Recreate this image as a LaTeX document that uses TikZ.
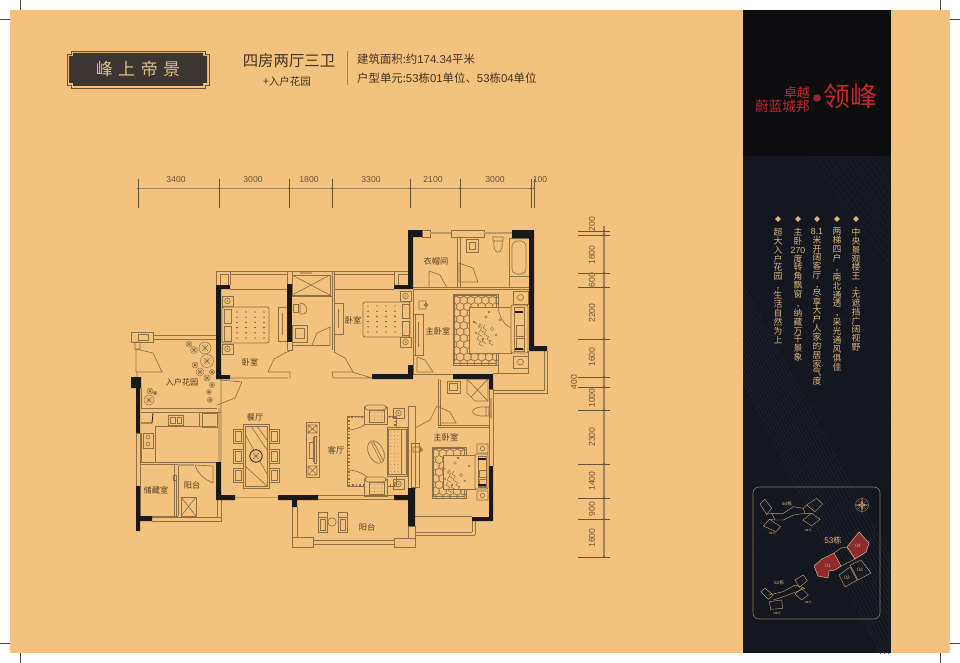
\documentclass[tikz,border=0pt]{standalone}
\usepackage{fontspec}
\setmainfont{Noto Sans CJK SC}
\newfontfamily\latinf{Liberation Sans}
\usetikzlibrary{calc}
\definecolor{pagebg}{HTML}{F4C27F}
\definecolor{ln}{HTML}{8E7044}
\definecolor{gl}{HTML}{B79A6C}
\definecolor{wallc}{HTML}{1B1917}
\definecolor{txt}{HTML}{4E3C24}
\definecolor{dimc}{HTML}{6A5433}
\definecolor{gold}{HTML}{DDB678}
\definecolor{topblack}{HTML}{0D0D10}
\definecolor{navy}{HTML}{14171F}
\definecolor{streak}{HTML}{262A36}
\definecolor{logored}{HTML}{C2272D}
\definecolor{maproom}{HTML}{8E2A30}
\tikzset{
  th/.style={draw=ln,line width=0.65pt},
  thf/.style={draw=ln,line width=0.65pt,fill=pagebg},
  glassln/.style={draw=gl,line width=1.5pt},
  wall/.style={fill=wallc,draw=none},
  dimln/.style={draw=gl!70!dimc,line width=1.3pt},
  tick/.style={draw=dimc,line width=0.7pt},
  dimlab/.style={text=dimc,font=\latinf\fontsize{8.6}{9}\selectfont,inner sep=0pt},
  roomlab/.style={text=txt,font=\fontsize{8.2}{9}\selectfont,inner sep=0pt},
  vtext/.style={anchor=north,align=center,inner sep=0pt,text=gold,font=\fontsize{8.8}{8.85}\selectfont},
  mapln/.style={draw=gold!85!black,line width=0.45pt},
  maplab/.style={text=gold,inner sep=0pt,font=\fontsize{4}{4}\selectfont},
}
\newcommand{\nstand}[2]{% top-left x,y: 11x10
  \draw[th] (#1,#2) rectangle ++(11,10);
  \draw[th] (#1+5.5,#2+5) circle (2.8);
  \fill[ln] (#1+5.5,#2+5) circle (0.8);
}
\newcommand{\ptsx}[4]{% x1,x2,y1,y2 dots
  \foreach \i in {0,...,3}{\foreach \j in {0,...,5}{
    \fill[wallc!80!ln] ({#1+\i*(#2-#1)/3},{#3+\j*(#4-#3)/5}) circle (0.7);}}
}
\newcommand{\rugcircles}[4]{% x1,y1,x2,y2
  \begin{scope}
    \clip (#1,#2) rectangle (#3,#4);
    \foreach \i in {0,...,9}{\foreach \j in {0,...,12}{
      \draw[ln,line width=0.4pt] ({#1+\i*7.2+mod(\j,2)*3.5},{#2+\j*6.3}) circle (4.1);}}
  \end{scope}
  \draw[ln,line width=0.9pt] (#1,#2) rectangle (#3,#4);
  \draw[th] (#1+1.6,#2+1.6) rectangle (#3-1.6,#4-1.6);
}
\newcommand{\flowers}[2]{% around x,y
  \foreach \a/\b/\r in {0/0/1.4,6/-8/1.3,-4/8/1.1,12/4/1.6,9/-13/1,-6/-3/1,16/10/1.2,20/-5/1.1,3/14/1.2}{
    \draw[ln,line width=0.4pt] (#1+\a,#2+\b) circle (\r);}
  \foreach \a/\b in {0/5,3/3,-2/9,4/9,-3/14,2/16,7/14,9/18,-1/19}{
    \draw[ln,line width=0.5pt] (#1+\a,#2+\b) -- ++(4,2.4) (#1+\a,#2+\b) -- ++(2,-3);}
  \fill[wallc] (#1-4,#2-2) circle (0.7) (#1-1,#2+2) circle (0.7);
}
\newcommand{\plant}[3]{% x,y,r
  \draw[ln,line width=0.45pt] (#1,#2) circle (#3);
  \draw[ln,line width=0.45pt] (#1-#3*0.7,#2) -- (#1+#3*0.7,#2) (#1,#2-#3*0.7) -- (#1,#2+#3*0.7)
     (#1-#3*0.5,#2-#3*0.5) -- (#1+#3*0.5,#2+#3*0.5) (#1-#3*0.5,#2+#3*0.5) -- (#1+#3*0.5,#2-#3*0.5);
}
\newcommand{\diningchair}[2]{\draw[th,line width=0.8pt] (#1,#2) rectangle ++(10,14); \draw[th] (#1+2,#2+2) rectangle ++(6,10);}
\newcommand{\armchair}[2]{% x,y 23x19
  \draw[thf] (#1,#2+2) rectangle ++(23,17);
  \draw[thf,rounded corners=3pt] (#1+1,#2) rectangle ++(21,5);
  \draw[thf] (#1+5,#2+5) rectangle ++(15,12);
  \foreach \i in {0,...,3}{\foreach \j in {0,...,2}{\fill[ln] (#1+7+\i*3.5,#2+7.5+\j*3.5) circle (0.45);}}
}
\begin{document}
\begin{tikzpicture}[x=1pt,y=-1pt]
\useasboundingbox (0,0) rectangle (960,663);
\fill[white] (0,0) rectangle (960,663);
\fill[pagebg] (10,10) rectangle (950,653);
% crop marks
\draw[black!70,line width=0.6pt] (20,0) -- (20,10) (0,19) -- (10,19) (940,0) -- (940,10) (950,19) -- (960,19)
  (20,653) -- (20,663) (0,643) -- (10,643) (940,653) -- (940,663) (950,643) -- (960,643);
% ---------- right panel
\fill[navy] (743,156) rectangle (891,653);
\begin{scope}
  \clip (743,156) rectangle (891,653);
  \foreach \d in {0,4,...,60}{\draw[streak,line width=0.35pt] (743,{285+\d*1.6}) -- (891,{560+\d*1.9});}
  \foreach \d in {0,9,...,180}{\draw[streak,line width=0.3pt,opacity=.55] (743,{620-\d*2}) -- ++(150,-150);}
  \foreach \d in {0,6,...,60}{\draw[streak,line width=0.3pt,opacity=.7] (810+\d,156) -- ++(81,110);}
\end{scope}
\fill[topblack] (743,10) rectangle (891,156);
% logo
\node[inner sep=0pt,anchor=east,text=logored,font=\fontsize{13}{13}\selectfont] (logoa) at (810,93) {卓越};
\node[inner sep=0pt,anchor=east,text=logored,font=\fontsize{13.7}{14}\selectfont] (logob) at (810,106) {蔚蓝城邦};
\fill[maproom] (817,98) circle (3.8);
\node[inner sep=0pt,anchor=west,text=logored,font=\fontsize{27}{27}\selectfont] (logoc) at (823,96) {领峰};
% bullets
\foreach \x in {856,837,817,798,778}{\fill[gold] (\x,216) -- (\x+2.8,219) -- (\x,222) -- (\x-2.8,219) -- cycle;}
\node[vtext] (va) at (856,228) {中\\央\\景\\观\\楼\\王\\,\\无\\遮\\挡\\广\\阔\\视\\野};
\node[vtext] (vb) at (837,228) {两\\梯\\四\\户\\,\\南\\北\\通\\透\\,\\采\\光\\通\\风\\俱\\佳};
\node[vtext] (vc) at (817,228) {{\latinf 8.1}\\米\\开\\阔\\客\\厅\\,\\尽\\享\\大\\户\\人\\家\\的\\居\\家\\气\\度};
\node[vtext] (vd) at (798,228) {主\\卧\\{\latinf 270}\\度\\转\\角\\飘\\窗\\,\\纳\\藏\\万\\千\\景\\象};
\node[vtext] (ve) at (778,228) {超\\大\\入\\户\\花\\园\\,\\生\\活\\自\\然\\为\\上};
% key map
\draw[draw=gold!60!navy,line width=0.6pt,rounded corners=6pt] (753,487) rectangle (880,619);
\draw[gold!70!navy,line width=0.4pt] (862,505) circle (6.5);
\fill[gold!85!navy] (862,497) -- (863,504) -- (870,505) -- (863,506) -- (862,513) -- (861,506) -- (854,505) -- (861,504) -- cycle;
\fill[gold!60!navy] (857,500) -- (862.6,504.4) -- (867,500) -- (862.6,505.6) -- (867,510) -- (861.4,505.6) -- (857,510) -- (861.4,504.4) -- cycle;
\node[inner sep=0pt,text=gold,font=\fontsize{8.2}{9}\selectfont] (l53) at (833,540) {{\latinf 53}栋};
\draw[draw=gold!80!white,line width=0.45pt,fill=maproom] (814,566) -- (822,559) -- (834,553) -- (841,566) -- (835,570) -- (829,571) -- (828,578) -- (818,576) -- cycle;
\draw[draw=gold!80!white,line width=0.45pt,fill=maproom] (847,547) -- (859,532) -- (869,543) -- (866,552) -- (855,559) -- cycle;
\draw[mapln] (834,553) -- (841,548) -- (847,547) -- (855,559) -- (841,566);
\draw[mapln] (850,565) -- (861,560) -- (871,573) -- (858,580) -- cycle;
\draw[mapln] (839,575) -- (850,567) -- (857,580) -- (845,587) -- cycle;
\node[maplab,font=\latinf\fontsize{4.8}{5}\selectfont] (m01) at (828,566) {01};
\node[maplab,font=\latinf\fontsize{4.8}{5}\selectfont] (m02) at (847,578) {02};
\node[maplab,font=\latinf\fontsize{4.8}{5}\selectfont] (m03) at (860,570) {03};
\node[maplab,font=\latinf\fontsize{4.8}{5}\selectfont] (m04) at (858,546) {04};
% 54
\begin{scope}[shift={(740,480)},x=0.3333pt,y=-0.3333pt]
  \draw[mapln] (60,72) -- (75,58) -- (95,85) -- (80,103) -- cycle;
  \draw[mapln] (70,138) -- (88,118) -- (122,140) -- (108,155) -- cycle;
  \draw[mapln] (95,100) -- (130,100) -- (160,80) -- (190,85) -- (195,100) -- (160,105) -- (130,120) -- (105,120) -- cycle;
  \draw[mapln] (200,75) -- (230,55) -- (248,72) -- (225,95) -- cycle;
  \draw[mapln] (188,120) -- (215,100) -- (240,118) -- (215,138) -- cycle;
  \draw[mapln] (80,103) -- (95,100) (88,118) -- (105,120) (195,100) -- (215,100) (200,75) -- (190,85);
\end{scope}
\node[maplab,font=\fontsize{4.6}{5}\selectfont] (m54) at (787,504) {{\latinf 54}栋};
\node[maplab,font=\fontsize{2.8}{3}\selectfont] (m54a) at (772,533) {1单元};
\node[maplab,font=\fontsize{2.8}{3}\selectfont] (m54b) at (808,530) {2单元};
% 52
\begin{scope}[shift={(740,540)},x=0.3333pt,y=-0.3333pt]
  \draw[mapln] (62,155) -- (75,145) -- (100,165) -- (85,178) -- cycle;
  \draw[mapln] (85,165) -- (130,155) -- (165,135) -- (195,145) -- (170,155) -- (130,170) -- (100,180);
  \draw[mapln] (165,120) -- (190,105) -- (202,122) -- (178,142) -- cycle;
  \draw[mapln] (165,162) -- (185,145) -- (205,165) -- (185,180) -- cycle;
  \draw[mapln] (88,185) -- (125,180) -- (128,205) -- (92,208) -- cycle;
\end{scope}
\node[maplab,font=\fontsize{4.6}{5}\selectfont] (m52) at (779,583) {{\latinf 52}栋};
\node[maplab,font=\fontsize{2.8}{3}\selectfont] (m52a) at (808,602) {1单元};
\node[maplab,font=\fontsize{2.8}{3}\selectfont] (m52b) at (777,613) {2单元};
% ---------- header
\definecolor{ttlbox}{HTML}{3B3631}
\draw[line width=0.9pt,draw=dimc] (71,51) -- (205,51) -- (205,54) -- (209,54) -- (209,85) -- (205,85) -- (205,88) -- (71,88) -- (71,85) -- (67,85) -- (67,54) -- (71,54) -- cycle;
\fill[ttlbox] (73,53) -- (203,53) -- (203,56) -- (207,56) -- (207,83) -- (203,83) -- (203,86) -- (73,86) -- (73,83) -- (69,83) -- (69,56) -- (73,56) -- cycle;
\node[inner sep=0pt,text=gold!90!white,font=\fontsize{17}{17}\selectfont] (ttl) at (138,69) {峰\hspace{5.5pt}上\hspace{5.5pt}帝\hspace{5.5pt}景};
\node[inner sep=0pt,text=txt!85!black,font=\fontsize{15.4}{16}\selectfont] (ha) at (289,61) {四房两厅三卫};
\node[inner sep=0pt,text=txt!85!black,font=\fontsize{10.5}{11}\selectfont] (hb) at (287,82) {+入户花园};
\draw[line width=0.5pt,draw=gl!70!dimc] (347,51) -- (347,85);
\node[inner sep=0pt,anchor=west,text=txt!85!black,font=\fontsize{11.4}{12}\selectfont] (hc) at (357,59) {建筑面积:约{\latinf 174.34}平米};
\node[inner sep=0pt,anchor=west,text=txt!85!black,font=\fontsize{11.4}{12}\selectfont] (hd) at (357,78) {户型单元:{\latinf 53}栋{\latinf 01}单位、{\latinf 53}栋{\latinf 04}单位};
% ---------- top dimensions
\draw[dimln] (138,188.5) -- (534,188.5);
\foreach \x in {138,219,289,332,410,460,531,534}{\draw[tick] (\x,179) -- (\x,208); \fill[dimc] (\x,188.5) circle (1);}
\node[dimlab] (d1) at (176,180) {3400};
\node[dimlab] (d2) at (253,180) {3000};
\node[dimlab] (d3) at (309,180) {1800};
\node[dimlab] (d4) at (371,180) {3300};
\node[dimlab] (d5) at (433,180) {2100};
\node[dimlab] (d6) at (495,180) {3000};
\node[dimlab] (d7) at (540,180) {100};
% right dimensions
\draw[dimln] (604,226) -- (604,557);
\foreach \y in {231,235,273,287,339,377,387,410,464,498,519,557}{\draw[tick] (578,\y) -- (610,\y); \fill[dimc] (604,\y) circle (1);}
\foreach \n/\y/\t in {e1/224/200,e2/255/1600,e3/280/600,e4/313/2200,e5/357/1600,e7/398/1000,e8/437/2300,e9/481/1400,e10/509/900,e11/538/1600}{
  \node[dimlab,rotate=90] (\n) at (592,\y) {\t};}
\node[dimlab,rotate=90] (e6) at (574,382) {400};
% ---------- thin architecture
% top bedrooms band
\draw[th] (216,271) -- (394,271) (230,274) -- (287,274) (334,274) -- (394,274);
\draw[th] (216,271) -- (216,285) (230,271) -- (230,285) (220,274) rectangle (228,285);
\draw[th] (287,271) -- (287,284) (292,271) -- (292,284) (332,271) -- (332,350) (334,271) -- (334,352);
\draw[glassln] (300,273) -- (312,273);
\draw[th] (230,289) -- (287,289);
\draw[th] (394,271) rectangle (408,285) (398,274) rectangle (408,285);
\draw[th] (334,289) -- (394,289);
% shower bath 1
\draw[th,line width=0.8pt] (292,275) rectangle (330,295);
\draw[th] (292,275) -- (330,295) (292,295) -- (330,275);
\draw[th,line width=0.9pt] (292,296) -- (332,296);
\draw[th] (300,303) -- (300,314) .. controls (310,316) and (308,303) .. (300,303);
\draw[th] (293,304) rectangle (298,312);
\draw[th] (292,325) rectangle (307,342) (295,328) rectangle (304,338);
\draw[th] (312,345) -- (317,333) -- (330,327) -- (330,345);
\draw[th] (292,342) -- (292,350) -- (287,350) -- (287,342) (292,345) -- (330,345);
% bed 1
\draw[th] (278,307) rectangle (287,341);
\draw[th,line width=1pt] (282,313) -- (282,335);
\draw[th] (334,303) rectangle (343,334);
\draw[th,line width=1pt] (338.5,309) -- (338.5,328);
\nstand{222}{296}\nstand{222}{344}
\draw[th,rounded corners=2pt,line width=0.8pt] (222,307) rectangle (269,343);
\draw[th] (224,309) rectangle (231,323) (224,326) rectangle (231,341);
\ptsx{237}{264}{312}{338}
% bed 2
\nstand{400}{291}\nstand{400}{337}
\draw[th,rounded corners=2pt,line width=0.8pt] (363,302) rectangle (410,337);
\draw[th] (402,304) rectangle (409,318) (402,321) rectangle (409,335);
\ptsx{368}{395}{306}{332}
% doors & corridor
\draw[th] (230,378) -- (288,378) (268,372) -- (290,372) -- (290,378) (268,372) -- (274,359) -- (287,352) -- (292,350);
\draw[th] (332,372) -- (352,372) -- (372,378) -- (333,378) -- cycle;
\draw[th] (334,352) -- (345,358) -- (353,372);
% garden
\draw[th] (131,332) rectangle (153,342) (138,334) rectangle (148,340);
\draw[th,line width=0.8pt] (153,335) -- (216,335) (153,339) -- (216,339);
\draw[th] (135,342) rectangle (140,349) (136,349) -- (153,353) -- (162,372) -- (137,372) -- (137,377) (136,349) -- (136,372);
\draw[th] (141,388) -- (141,408) (141,408) -- (217,408) (141,412) -- (221,412);
\draw[th] (217,405) -- (235,398) -- (242,382) -- (221,380) (221,379) -- (221,462) (219,408) -- (219,462);
\plant{205}{348}{6}\plant{207}{361}{6.5}\plant{194}{350}{3.5}\plant{189}{344}{3}\plant{200}{372}{4}\plant{207}{378}{3.2}
\plant{195}{365}{3}\plant{212}{372}{2.5}\plant{149}{400}{5.2}\plant{150}{391}{3}\plant{212}{385}{2.6}\plant{209}{392}{2.4}\plant{210}{400}{2.6}\plant{155}{393}{2}
% kitchen
\draw[th] (141,433) -- (141,462) -- (219,462) (155,426) -- (216,426) (155,426) -- (155,462);
\draw[th] (199,412) -- (199,426) (202,413) rectangle (217,427);
\draw[wallc,line width=0.8pt] (141,423) -- (152,423) -- (153,413);
\draw[th] (168,415) rectangle (183,425) (170,417) rectangle (175,423) (177,417) rectangle (181,423);
\draw[th] (143,433) rectangle (153,448);
\draw[th] (148,437) circle (2) (148,444) circle (2);
\draw[th] (136,433) -- (136,486) (140,433) -- (140,486) (136,433) -- (140,433);
% storage & balcony
\draw[th,line width=0.8pt] (140,464) rectangle (174,516);
\draw[th] (174,464) -- (178,464) (178,464) -- (178,516) (176,480) -- (176,516) (140,516) -- (178,516);
\draw[glassln,draw=gl] (178,465) -- (194,465);
\draw[th] (195,465) -- (213,466) -- (213,483) (195,465) .. controls (198,474) and (204,479) .. (213,483);
\draw[th,line width=0.8pt] (181,497) rectangle (196,516);
\draw[th] (181,497) -- (196,516) (181,516) -- (196,497);
\draw[th] (152,517) -- (221,517) (152,521) -- (221,521) -- (221,500);
\draw[th] (217,500) -- (217,517);
\draw[th] (176,475) rectangle (173,480);
% dining
\foreach \y in {429,449,468}{\diningchair{233}{\y}\diningchair{269}{\y}}
\draw[th,line width=0.9pt,fill=pagebg] (243,424) rectangle (269,488);
\draw[th] (245,426) rectangle (267,486);
\draw[th] (251,426) -- (267,450) (257,426) -- (267,440) (245,434) -- (267,474) (245,466) -- (267,486);
\fill[pagebg] (256,456) circle (6.2);
\plant{256}{456}{6.2}
\draw[wallc!70!ln,line width=0.8pt] (256,456) circle (6.2);
% TV unit
\draw[th,line width=0.8pt] (306,422) rectangle (319,477);
\draw[th] (308,425) rectangle (317,433) (308,425) -- (317,433) (308,433) -- (317,425);
\draw[th] (308,466) rectangle (317,475) (308,466) -- (317,475) (308,475) -- (317,466);
\draw[th] (313,437) -- (313,462) (309,442) rectangle (314,458) (314,436) rectangle (316,463);
% living rug
\draw[th,line width=1.6pt,dash pattern=on 1.4pt off 2pt] (349,417) rectangle (395,485);
\draw[th] (347,416) rectangle (396,486);
\draw[th] (347,430) arc (90:0:24 and 16) (347,470) arc (-90:0:24 and 16);
\draw[th,rotate around={25:(376,452)}] (376,452) ellipse (7.5 and 12);
\draw[th] (371,442) -- (381,462) (373,441) -- (383,460);
\armchair{364}{405}
\armchair{364}{477}
\draw[thf,line width=0.8pt] (387,427) rectangle (407,476);
\draw[th] (388,429) rectangle (401,474) (401,429) rectangle (406,474);
\foreach \i in {0,...,2}{\foreach \j in {0,...,11}{\fill[ln] (391+\i*3.5,432+\j*3.6) circle (0.45);}}
\nstand{393}{408}\nstand{393}{479}
% windows south
\draw[glassln] (235,497.5) -- (278,497.5);
\draw[th] (318,495) -- (394,495) (318,499) -- (394,499);
% living balcony
\draw[th] (292,507) -- (292,538) (297,507) -- (297,537);
\draw[th] (292,537) rectangle (313,547);
\draw[th] (313,540) -- (394,540) (313,544) -- (394,544);
\draw[th] (394,538) rectangle (415,547);
\draw[th] (408,526) rectangle (415,538);
\foreach \x in {318,338}{
  \draw[th,line width=0.8pt] (\x,512) rectangle ++(9.5,5) (\x,517) rectangle ++(9.5,15) (\x+2,519) rectangle ++(5.5,11);}
\draw[th] (332,522) circle (4.2);
% master 1 upper
\draw[th] (422,230) rectangle (430,237);
\draw[glassln] (430,233) -- (451,233);
\draw[th] (451,230) rectangle (484,237);
\draw[glassln] (484,233) -- (512,233);
\draw[th] (457,237) -- (457,287) (460,237) -- (460,287) (413,287) -- (529,287) (413,289.5) -- (529,289.5);
\draw[th] (466,239) rectangle (478,252) (469,242) rectangle (475,249);
\draw[th] (493,237) rectangle (503,241) (494,241) .. controls (492,256) and (504,256) .. (502,241);
\draw[th] (509,238) rectangle (529,276) (509,276) -- (509,287);
\draw[th,rounded corners=5pt] (512,241) rectangle (526,274);
\draw[th] (459,263) -- (473,268) -- (478,282) -- (459,282) -- cycle;
\draw[th] (429,271) -- (440,275) -- (447,288) (429,271) -- (429,287);
% master 1
\draw[th] (413,289) -- (413,374) (415,314) -- (415,355) (413,374) -- (453,374);
\draw[th] (493,373) -- (528,373) -- (528,351) (498,373) -- (498,365);
\rugcircles{453}{294}{498}{365}
\fill[pagebg] (469,307) rectangle (511,353);
\draw[th] (469,307) rectangle (511,353);
\draw[th] (498,307) .. controls (500,320) and (505,325) .. (511,328);
\flowers{480}{325}
\draw[thf,rounded corners=2pt,line width=0.8pt] (511,305) rectangle (528,353);
\draw[th] (514,307) rectangle (524,351) (516,325) rectangle (524,336) (516,338) rectangle (524,349);
\draw[wallc,line width=1.2pt] (515,312) -- (523,312) (515,349) -- (523,349);
\draw[th] (513,291) -- (528,291) -- (528,304) -- (513,304) -- cycle;
\draw[th] (520.5,297.5) circle (3);
\draw[th] (513,356) -- (528,356) -- (528,368) -- (513,368) -- cycle;
\draw[th] (520.5,362) circle (3);
\draw[th] (413,314) rectangle (423,355);
\draw[th,line width=1pt] (418,322) -- (418,347);
\draw[th] (419,301) rectangle (426,309) (426,305) circle (1.8);
\draw[th] (417,357) -- (425,360) -- (433,372) -- (417,372) -- cycle;
% east balcony
\draw[th,line width=0.9pt] (544,351) -- (544,390) -- (493,390) (547,351) -- (547,393) -- (493,393);
% master 2 upper bath
\draw[th] (438,379) -- (438,425) (440,380) -- (440,425) (438,425) -- (489,425) (438,427) -- (489,427);
\draw[th] (447,381) rectangle (460,393) (449.5,383.5) rectangle (457.5,390.5);
\draw[th] (467,379) -- (488,379) -- (488,401) -- (475,401) -- (467,393) -- cycle;
\draw[th] (467,379) -- (488,401) (488,379) -- (471,397);
\draw[th] (486,407) rectangle (489,416) (486,407) .. controls (468,406) and (468,417) .. (486,416);
\draw[th] (437,406) -- (450,412) -- (456,423) -- (440,423);
\draw[th] (489,389) -- (489,466) (493,389) -- (493,466) (489,389) -- (493,389);
\draw[glassln] (491,398) -- (491,418);
% master 2
\draw[th] (408,406) rectangle (415,488);
\draw[th] (417,427) -- (430,420) -- (437,406) (415,427) -- (417,427);
\draw[th] (411,443) rectangle (419,487);
\draw[th,line width=1pt] (415,451) -- (415,480);
\draw[th] (413,447) rectangle (421,452) (421,449.5) circle (1.6);
\rugcircles{432}{447}{466}{498}
\fill[pagebg] (443,455) rectangle (475,489);
\draw[th] (443,455) rectangle (475,489);
\flowers{449}{471}
\draw[thf,rounded corners=1pt,line width=0.8pt] (475,454) rectangle (488,489);
\draw[th] (478,456) rectangle (486,487) (479,470) rectangle (486,477) (479,479) rectangle (486,486);
\draw[wallc,line width=1.1pt] (478,459) -- (486,459) (478,485) -- (486,485);
\draw[th] (477,444) rectangle (488,453) (482.5,448.5) circle (2.2);
\draw[th] (477,491) rectangle (488,500) (482.5,495.5) circle (2.2);
\draw[th] (415,516) -- (472,516) (472,517) -- (472,532) (475,517) -- (475,535) (415,532) -- (472,532) (415,535) -- (475,535);
% ---------- black walls
\fill[wall] (216,285) rectangle (221,379) (216,285) rectangle (230,289) (216,375) rectangle (230,379);
\fill[wall] (287,284) rectangle (292,342);
\fill[wall] (131,377) rectangle (141,388) (136,377) rectangle (140,433);
\fill[wall] (136,486) rectangle (140,531) (136,516) rectangle (152,521);
\fill[wall] (216,462) rectangle (221,500) (216,495) rectangle (235,500);
\fill[wall] (278,495) rectangle (318,500) (292,500) rectangle (297,507);
\fill[wall] (408,230) rectangle (413,289) (408,230) rectangle (422,237) (394,285) rectangle (413,289);
\fill[wall] (512,230) rectangle (534,238) (529,230) rectangle (534,351) (529,346) rectangle (547,351);
\fill[wall] (372,374) rectangle (413,379) (408,365) rectangle (413,379);
\fill[wall] (453,374) rectangle (493,379) (489,374) rectangle (493,389);
\fill[wall] (489,466) rectangle (493,521) (472,517) rectangle (493,521);
\fill[wall] (394,495) rectangle (413,500) (408,488) rectangle (415,526);
% ---------- room labels
\node[roomlab] (r1) at (250,362) {卧室};
\node[roomlab] (r2) at (353,320) {卧室};
\node[roomlab] (r3) at (436,261) {衣帽间};
\node[roomlab] (r4) at (438,331) {主卧室};
\node[roomlab] (r5) at (182,382) {入户花园};
\node[roomlab] (r6) at (255,417) {餐厅};
\node[roomlab] (r7) at (336,450) {客厅};
\node[roomlab] (r8) at (156,490) {储藏室};
\node[roomlab] (r9) at (192,485) {阳台};
\node[roomlab] (r10) at (367,527) {阳台};
\node[roomlab] (r11) at (446,437) {主卧室};
\end{tikzpicture}
\end{document}
